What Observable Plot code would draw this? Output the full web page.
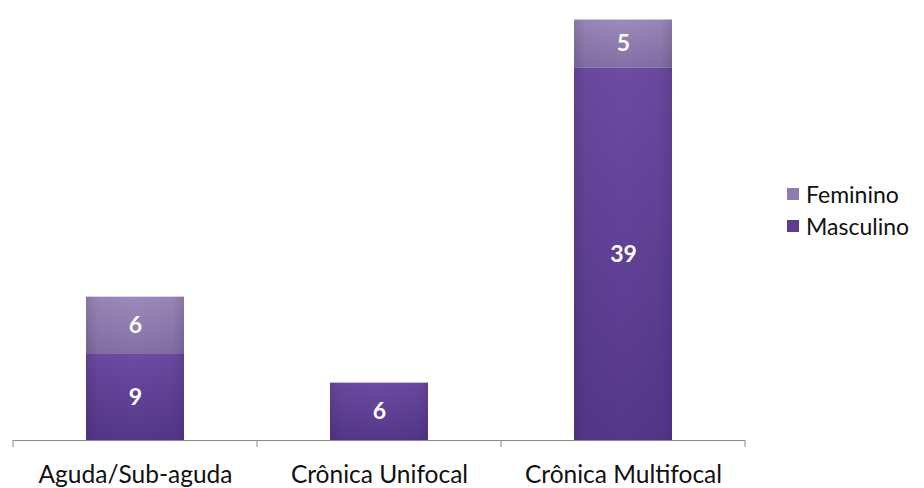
<!DOCTYPE html>
<html>
<head>
<meta charset="utf-8">
<script src="https://cdn.jsdelivr.net/npm/d3@7"></script>
<script src="https://cdn.jsdelivr.net/npm/@observablehq/plot@0.6"></script>
<style>
  body { margin: 0; background: #fff; }
  #wrap { position: relative; width: 924px; height: 488px; }
  .legend { position: absolute; left: 787px; top: 178px; font-family: Lato, "Open Sans", sans-serif; font-size: 23px; color: #111; }
  .legend .item { display: flex; align-items: center; height: 32px; }
  .legend .sw { width: 12px; height: 12px; margin-right: 7px; }
</style>
</head>
<body>
<div id="wrap"></div>
<script>
// Case counts by clinical form, split by sex
const categories = ["Aguda/Sub-aguda", "Crônica Unifocal", "Crônica Multifocal"];
const series = ["Masculino", "Feminino"];
const masculino = [9, 6, 39];
const feminino = [6, 0, 5];
const legendOrder = ["Feminino", "Masculino"];
const swatchColors = { Masculino: "#5d3c90", Feminino: "#8f7bae" };

const rows = categories.flatMap((cat, i) => [
  { cat, series: "Masculino", value: masculino[i] },
  { cat, series: "Feminino", value: feminino[i] }
]).filter(d => d.value > 0);

// Gradient definitions plus the small category-boundary ticks under the baseline
function decorations(index, scales, values, dims) {
  const g = d3.create("svg:g");
  const defs = g.append("defs");
  const vert = (id, top, bottom) => {
    const lg = defs.append("linearGradient").attr("id", id).attr("x1", 0).attr("y1", 0).attr("x2", 0).attr("y2", 1);
    lg.append("stop").attr("offset", "0%").attr("stop-color", top);
    lg.append("stop").attr("offset", "100%").attr("stop-color", bottom);
  };
  vert("gradM", "#6c4ba1", "#55378a");
  vert("gradF", "#9d8aba", "#8470a5");
  const sh = defs.append("linearGradient").attr("id", "shade").attr("x1", 0).attr("y1", 0).attr("x2", 1).attr("y2", 0);
  [["0%", 0.16], ["12%", 0.04], ["50%", 0], ["88%", 0.04], ["100%", 0.16]].forEach(([o, a]) =>
    sh.append("stop").attr("offset", o).attr("stop-color", "#1a0b33").attr("stop-opacity", a));
  const left = dims.marginLeft, right = dims.width - dims.marginRight;
  const base = scales.y(0);
  const n = categories.length;
  for (let i = 0; i <= n; i++) {
    const xx = left + (right - left) * i / n;
    g.append("line").attr("x1", xx).attr("x2", xx).attr("y1", base).attr("y2", base + 7)
      .attr("stroke", "#8a8a8a").attr("stroke-width", 1);
  }
  return g.node();
}

const chart = Plot.plot({
  width: 924,
  height: 488,
  marginLeft: 13,
  marginRight: 179,
  marginTop: 10,
  marginBottom: 48,
  style: { fontFamily: "Lato, 'Open Sans', sans-serif", background: "#fff" },
  x: { domain: categories, paddingInner: 0.6, paddingOuter: 0.3, label: null },
  y: { domain: [0, 45], axis: null },
  color: { domain: series, range: ["url(#gradM)", "url(#gradF)"] },
  marks: [
    decorations,
    Plot.barY(rows, Plot.stackY({ x: "cat", y: "value", z: "series", fill: "series" })),
    Plot.barY(rows, Plot.stackY({ x: "cat", y: "value", z: "series", fill: "url(#shade)" })),
    Plot.ruleY([0], { stroke: "#8a8a8a", strokeWidth: 1 }),
    Plot.text(rows, Plot.stackY({
      x: "cat", y: "value", z: "series", text: "value",
      fill: "white", fontWeight: "bold", fontSize: 23,
      style: "text-shadow: 1px 1px 1px rgba(30,10,60,0.6)"
    })),
    Plot.axisX({ tickSize: 0, tickPadding: 25, fontSize: 24.5, fill: "#111", label: null })
  ]
});

const wrap = document.getElementById("wrap");
wrap.appendChild(chart);

const legend = document.createElement("div");
legend.className = "legend";
for (const s of legendOrder) {
  const item = document.createElement("div");
  item.className = "item";
  const sw = document.createElement("span");
  sw.className = "sw";
  sw.style.background = swatchColors[s];
  item.appendChild(sw);
  item.appendChild(document.createTextNode(s));
  legend.appendChild(item);
}
wrap.appendChild(legend);
</script>
</body>
</html>
